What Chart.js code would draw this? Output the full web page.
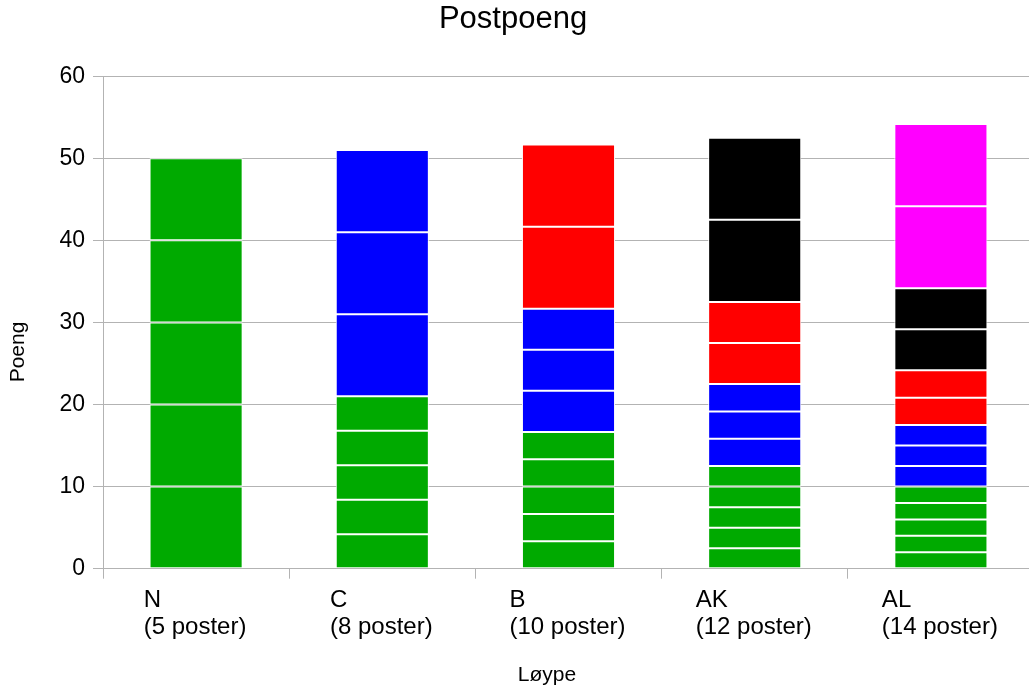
<!DOCTYPE html>
<html lang="no">
<head>
<meta charset="utf-8">
<title>Postpoeng</title>
<script src="https://cdn.jsdelivr.net/npm/chart.js@4"></script>
<style>
  html, body { margin: 0; padding: 0; background: #ffffff; overflow: hidden; }
  canvas { display: block; }
</style>
</head>
<body>
<canvas id="chart" width="1034" height="686"></canvas>
<script>
// Løyper og antall poster på hver
const courses = ['N', 'C', 'B', 'AK', 'AL'];
const postCounts = [5, 8, 10, 12, 14];

// Poeng for hver post, fra nederste til øverste segment
const postsN  = [10, 10, 10, 10, 10];
const postsC  = [4.2, 4.2, 4.2, 4.2, 4.2, 10, 10, 10];
const postsB  = [3.333, 3.333, 3.333, 3.333, 3.333, 5, 5, 5, 10, 10];
const postsAK = [2.5, 2.5, 2.5, 2.5, 2.5, 3.333, 3.333, 3.333, 5, 5, 10, 10];
const postsAL = [2, 2, 2, 2, 2, 2.5, 2.5, 2.5, 3.333, 3.333, 5, 5, 10, 10];

// Nivå for post nr. 1–14
const postLevels = ['grønn', 'grønn', 'grønn', 'grønn', 'grønn',
                    'blå', 'blå', 'blå', 'rød', 'rød',
                    'svart', 'svart', 'rosa', 'rosa'];

// Verdiakse
const yTicks = [0, 10, 20, 30, 40, 50, 60];

// Farger per nivå
const levelColors = {
  'grønn': '#00aa00',
  'blå':   '#0000ff',
  'rød':   '#ff0000',
  'svart': '#000000',
  'rosa':  '#ff00ff'
};

const FONT = '"Liberation Sans", Arial, sans-serif';
const GRID = '#b3b3b3';

const coursePosts = [postsN, postsC, postsB, postsAK, postsAL];
const tickLabels = courses.map((c, i) => [c, '(' + postCounts[i] + ' poster)']);

// Ett datasett per postnummer, stablet oppå hverandre
const datasets = postLevels.map((level, i) => ({
  label: 'Post ' + (i + 1),
  data: coursePosts.map(p => (i < p.length ? p[i] : null)),
  backgroundColor: levelColors[level],
  borderColor: '#ffffff',
  borderWidth: 1,
  borderSkipped: false
}));

// Kategorietiketter (venstrejustert blokk, sentrert under søylen) og aksetitler
const labelsAndTitles = {
  id: 'labelsAndTitles',
  afterDraw(chart) {
    const ctx = chart.ctx;
    const xs = chart.scales.x;
    ctx.save();
    ctx.fillStyle = '#000000';

    ctx.font = '24px ' + FONT;
    ctx.textAlign = 'left';
    ctx.textBaseline = 'alphabetic';
    chart.data.labels.forEach((lines, i) => {
      const cx = xs.getPixelForTick(i);
      const w = Math.max(...lines.map(l => ctx.measureText(l).width));
      lines.forEach((line, j) => ctx.fillText(line, cx - w / 2 - 1, xs.top + 38 + j * 27.3));
    });

    ctx.font = '21px ' + FONT;
    ctx.textAlign = 'center';
    ctx.textBaseline = 'middle';
    ctx.fillText('Løype', 547, 675);
    ctx.translate(18, 352);
    ctx.rotate(-Math.PI / 2);
    ctx.fillText('Poeng', 0, 0);
    ctx.restore();
  }
};

new Chart(document.getElementById('chart'), {
  type: 'bar',
  data: { labels: tickLabels, datasets: datasets },
  plugins: [labelsAndTitles],
  options: {
    responsive: false,
    animation: false,
    devicePixelRatio: 1,
    layout: { padding: { left: -8, right: 0, top: 0, bottom: 0 } },
    datasets: { bar: { categoryPercentage: 1.0, barPercentage: 0.5 } },
    plugins: {
      legend: { display: false },
      tooltip: { enabled: false },
      title: {
        display: true,
        text: 'Postpoeng',
        color: '#000000',
        font: { family: FONT, size: 31, weight: 'normal' },
        padding: { top: 1, bottom: 38 }
      }
    },
    scales: {
      x: {
        stacked: true,
        offset: true,
        grid: { drawOnChartArea: false, drawTicks: true, tickLength: 10, color: GRID },
        border: { color: GRID },
        ticks: { display: false, autoSkip: false, maxRotation: 0 },
        afterFit(scale) {
          scale.height = 117.3;
          scale.paddingLeft = 0;
          scale.paddingRight = 0;
        }
      },
      y: {
        stacked: true,
        min: yTicks[0],
        max: yTicks[yTicks.length - 1],
        afterBuildTicks(scale) { scale.ticks = yTicks.map(v => ({ value: v })); },
        grid: { color: GRID, tickLength: 10 },
        border: { color: GRID },
        ticks: {
          padding: 8,
          color: '#000000',
          font: { family: FONT, size: 23 }
        },
        afterFit(scale) { scale.width = 111; }
      }
    }
  }
});
</script>
</body>
</html>
